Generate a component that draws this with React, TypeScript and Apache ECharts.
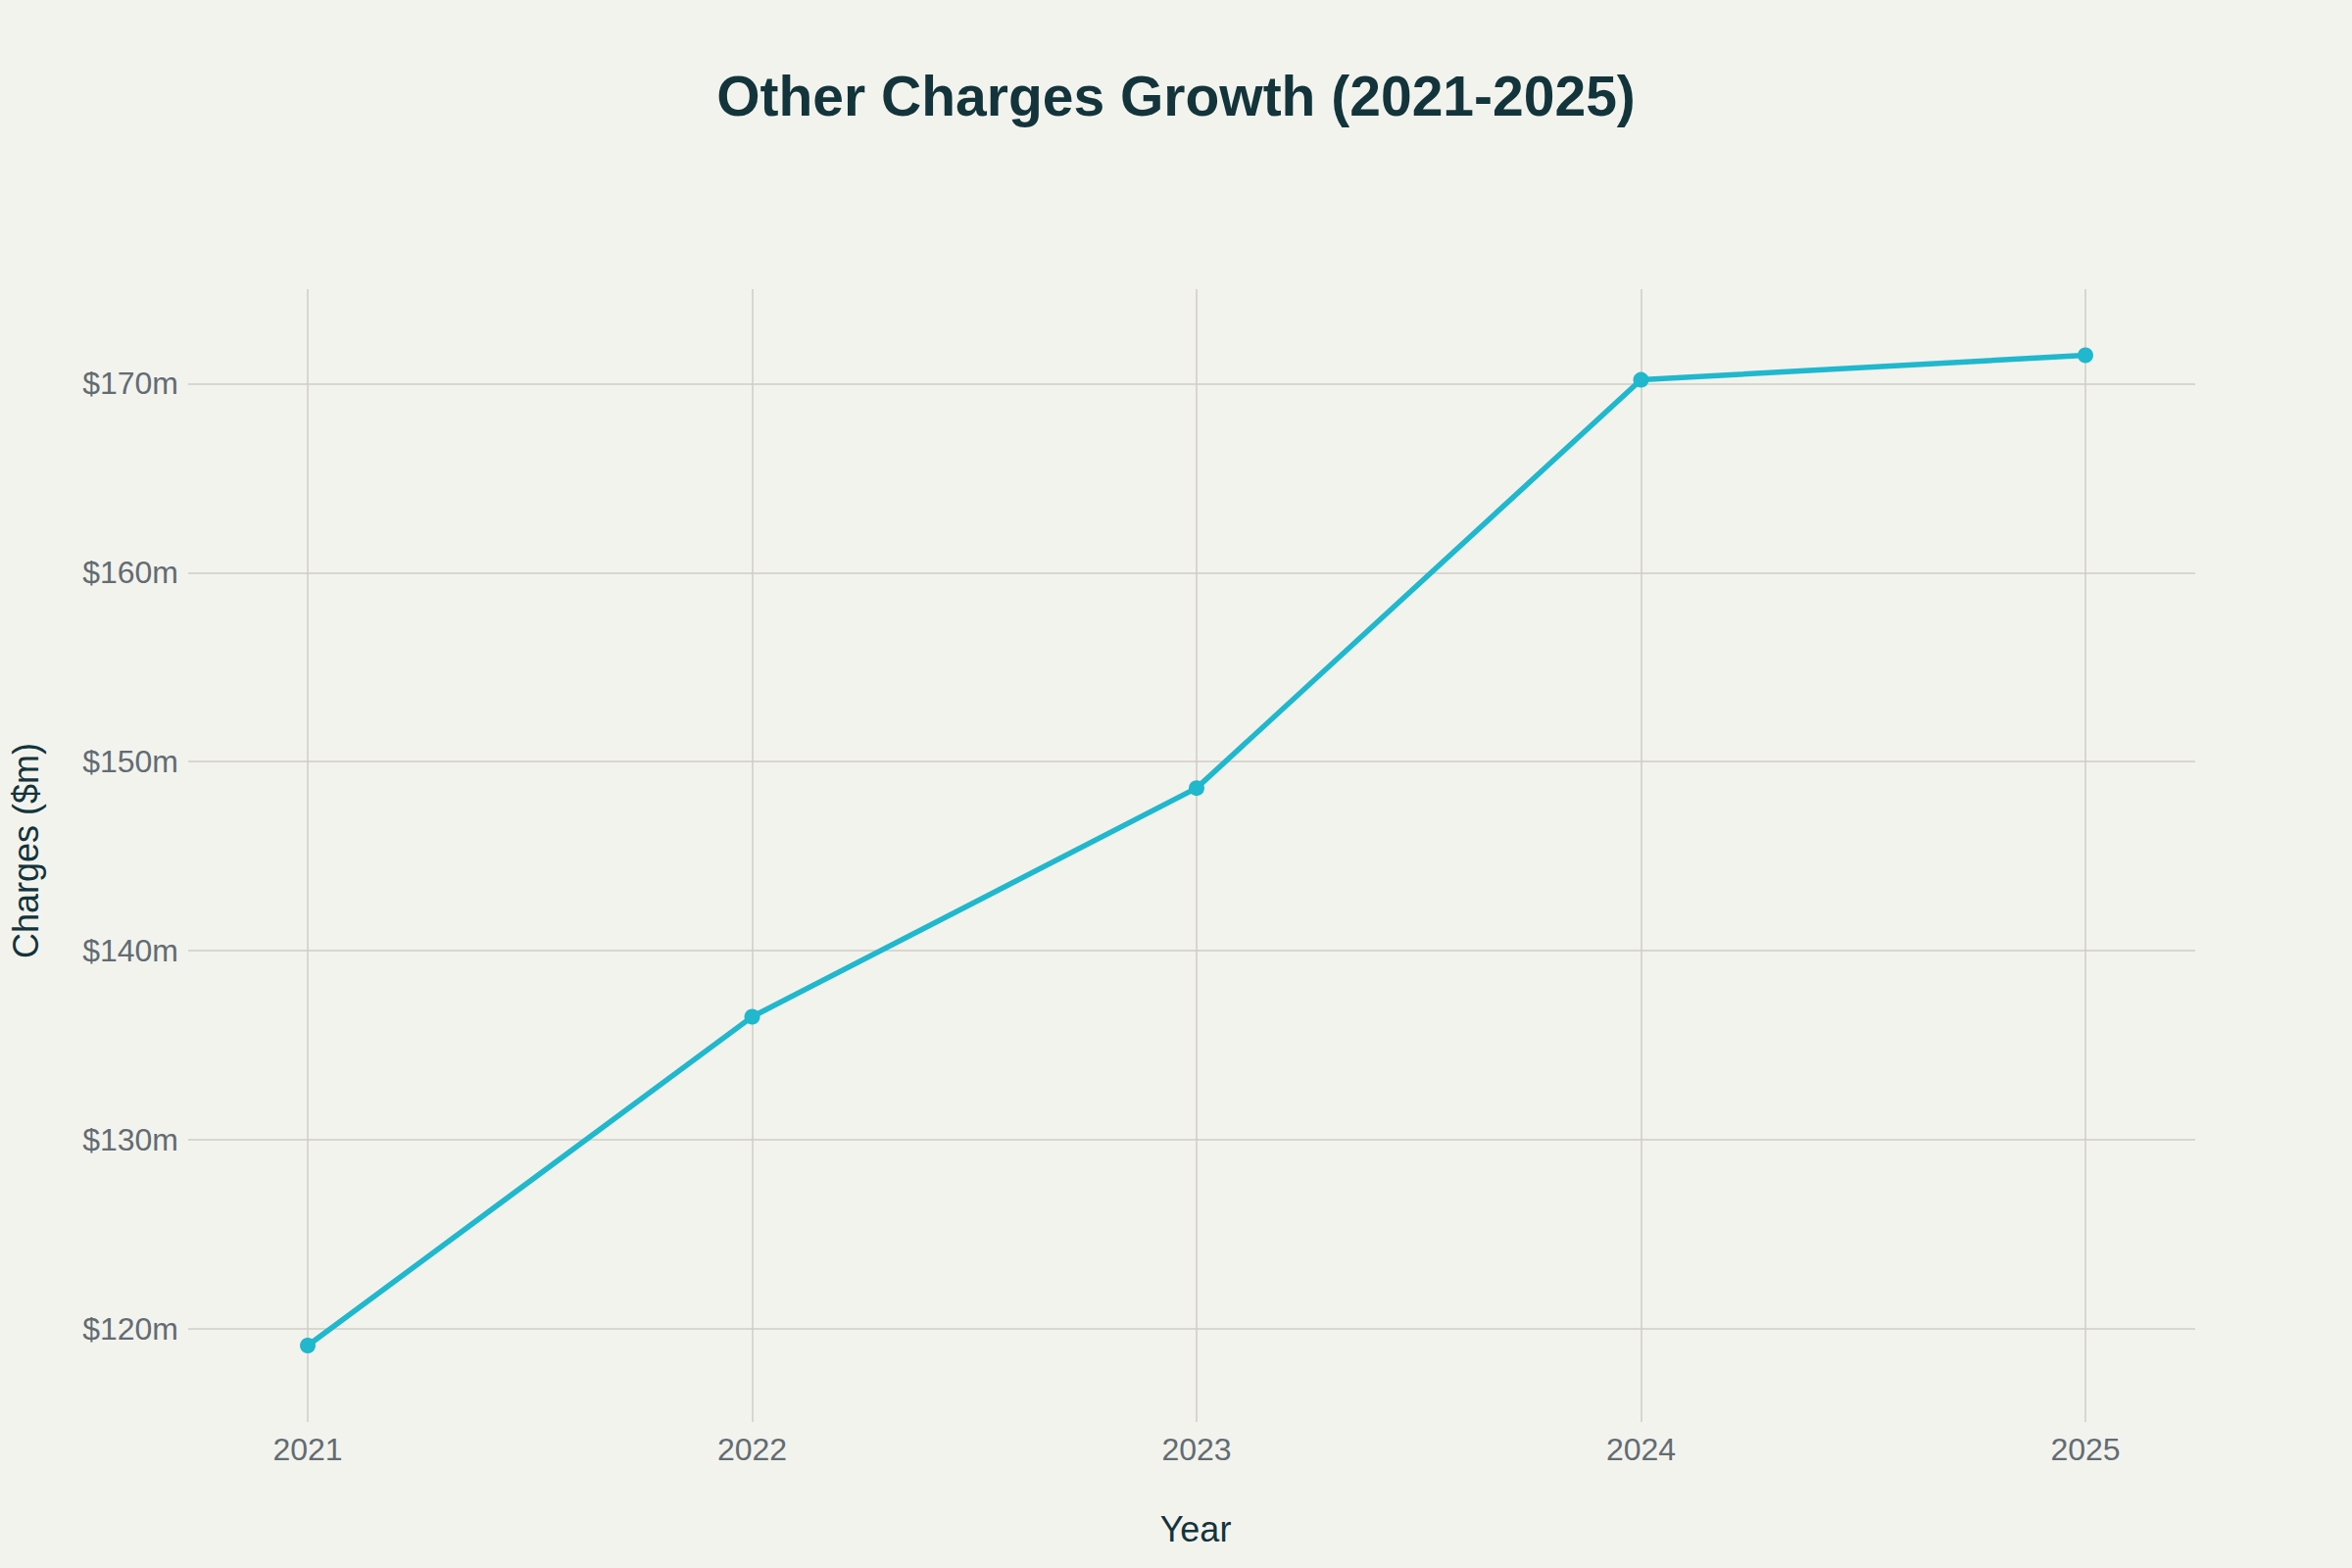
import React, { useEffect, useRef } from "react";
import * as echarts from "echarts";

const years = [2021, 2022, 2023, 2024, 2025];
const charges = [119.1, 136.5, 148.6, 170.2, 171.5];
const yTicks = [120, 130, 140, 150, 160, 170];

const titleText = "Other Charges Growth (2021-2025)";
const xTitle = "Year";
const yTitle = "Charges ($m)";

const FONT = "'Liberation Sans', Arial, sans-serif";
const BG = "#f3f3ee";
const GRID = "#cfccc6";
const LABEL = "#626c72";
const DARK = "#13343b";
const LINE = "#1fb8cd";

export default function App() {
  const ref = useRef<HTMLDivElement>(null);
  useEffect(() => {
    document.body.style.margin = "0";
    const chart = echarts.init(ref.current!, null, { renderer: "svg" });
    chart.setOption({
      animation: false,
      backgroundColor: BG,
      textStyle: { fontFamily: FONT },
      title: {
        text: titleText,
        left: "center",
        top: 64,
        textStyle: { fontFamily: FONT, fontSize: 57, fontWeight: "bold", color: DARK },
      },
      grid: { left: 202, right: 160, top: 295, bottom: 161 },
      xAxis: {
        type: "value",
        min: 2020.753,
        max: 2025.247,
        axisLine: { show: false },
        axisTick: {
          show: true,
          length: 12,
          customValues: years,
          lineStyle: { color: GRID, width: 1.5 },
        },
        axisLabel: {
          customValues: years,
          margin: 24,
          fontSize: 32,
          color: LABEL,
          fontFamily: FONT,
          formatter: (v: number) => String(v),
        },
        splitLine: { show: true, lineStyle: { color: GRID, width: 1.5 } },
      },
      yAxis: {
        type: "value",
        min: 115.68,
        max: 175.0,
        axisLine: { show: false },
        axisTick: {
          show: true,
          length: 10,
          customValues: yTicks,
          lineStyle: { color: GRID, width: 1.5 },
        },
        axisLabel: {
          customValues: yTicks,
          margin: 20,
          fontSize: 32,
          color: LABEL,
          fontFamily: FONT,
          formatter: (v: number) => `$${v}m`,
        },
        splitLine: { show: true, lineStyle: { color: GRID, width: 1.5 } },
      },
      graphic: [
        {
          type: "text",
          x: 1220,
          y: 1560,
          style: {
            text: xTitle,
            fontSize: 36,
            fontFamily: FONT,
            fill: DARK,
            align: "center",
            verticalAlign: "middle",
          },
        },
        {
          type: "text",
          x: 26,
          y: 868,
          rotation: Math.PI / 2,
          style: {
            text: yTitle,
            fontSize: 36,
            fontFamily: FONT,
            fill: DARK,
            align: "center",
            verticalAlign: "middle",
          },
        },
      ],
      series: [
        {
          type: "line",
          data: years.map((y, i) => [y, charges[i]]),
          symbol: "circle",
          symbolSize: 16,
          lineStyle: { color: LINE, width: 5.5 },
          itemStyle: { color: LINE },
        },
      ],
    });
    return () => chart.dispose();
  }, []);
  return <div ref={ref} style={{ width: 2400, height: 1600, position: "absolute", left: 0, top: 0 }} />;
}
